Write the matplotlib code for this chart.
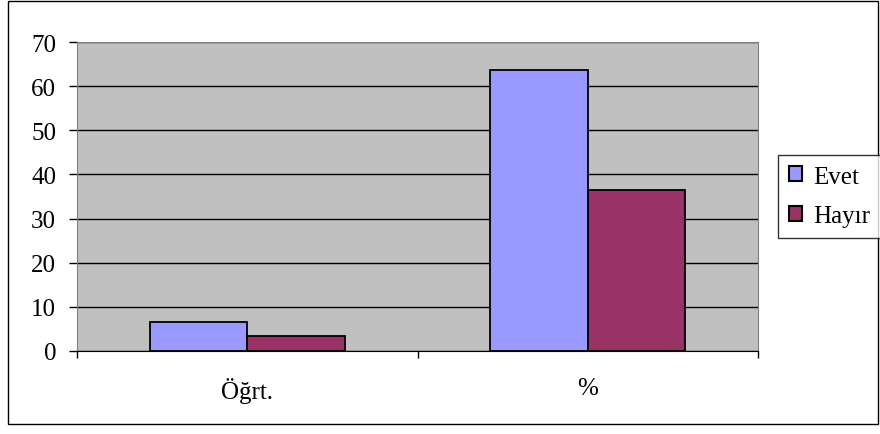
import numpy as np
import matplotlib
matplotlib.use("Agg")
import matplotlib.pyplot as plt
from matplotlib.patches import Rectangle

categories = ["Öğrt.", "%"]
evet = [6.6, 63.6]
hayir = [3.5, 36.4]
yticks = [0, 10, 20, 30, 40, 50, 60, 70]

plt.rcParams['font.family'] = ['Liberation Serif', 'DejaVu Serif']

fig = plt.figure(figsize=(8.8, 4.35), dpi=100)
ax = fig.add_axes([77/880, 1-352/435, (758-77)/880, (352-43)/435])

# outer chart border
fig.patches.append(Rectangle((8/880, 1-425/435), 870/880, 423/435,
                             transform=fig.transFigure, fill=False,
                             edgecolor='black', linewidth=1))

x = np.arange(len(categories)) + 0.5
w = 0.286
ax.set_facecolor('#c0c0c0')
ax.bar(x - w/2, evet, w, color='#9999ff', edgecolor='black', linewidth=1.3,
       label='Evet', zorder=3)
ax.bar(x + w/2, hayir, w, color='#993366', edgecolor='black', linewidth=1.3,
       label='Hayır', zorder=3)

ax.set_xlim(0, 2)
ax.set_ylim(0, 70)
ax.set_yticks(yticks)
ax.yaxis.grid(True, color='black', linewidth=1, zorder=1)
ax.set_axisbelow(True)

ax.set_xticks([0, 1, 2])
ax.set_xticklabels([])
ax.set_xticks(x, minor=True)
ax.set_xticklabels(categories, minor=True)
ax.tick_params(axis='x', which='major', length=5, direction='out', width=1)
ax.tick_params(axis='x', which='minor', length=0, pad=19, labelsize=18)
ax.tick_params(axis='y', length=6, direction='out', width=1, labelsize=18, pad=9)

for s in ['top', 'right', 'left']:
    ax.spines[s].set_color('#808080')
ax.spines['bottom'].set_color('black')

leg = fig.legend(loc='upper left', bbox_to_anchor=(778/880, 1-156/435),
                 frameon=True, fancybox=False, fontsize=18,
                 handlelength=0.55, handleheight=0.55, handletextpad=0.45,
                 borderpad=0.42, labelspacing=0.72, borderaxespad=0)
leg.get_frame().set_edgecolor('black')
leg.get_frame().set_linewidth(1)
for h in leg.legend_handles:
    h.set_linewidth(1.5)

fig.savefig('out.png', dpi=100)
